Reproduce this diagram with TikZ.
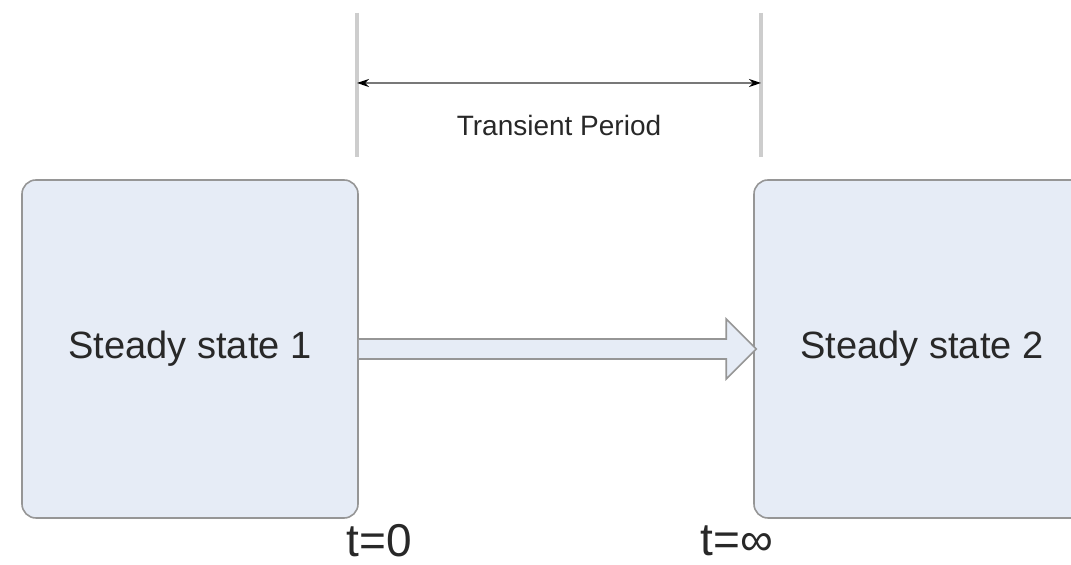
\documentclass[tikz,border=0pt]{standalone}
\usepackage{fontspec}
\setmainfont{Liberation Sans}
\usetikzlibrary{calc,arrows.meta}
\definecolor{boxfill}{RGB}{230,236,246}
\definecolor{boxline}{RGB}{150,150,150}
\definecolor{markline}{RGB}{205,205,205}
\definecolor{dimline}{RGB}{120,120,120}
\definecolor{labeltext}{RGB}{40,40,40}

\begin{document}
\begin{tikzpicture}[x=0.5pt, y=-0.5pt,
    state/.style={draw=boxline, fill=boxfill, line width=0.8pt, rounded corners=7pt,
        minimum width=168pt, minimum height=169pt, inner sep=0pt, text=labeltext,
        font=\fontsize{19}{22}\selectfont},
    marker/.style={draw=markline, line width=2pt},
    timelabel/.style={text=labeltext, inner sep=0pt, font=\fontsize{23}{27}\selectfont}]
    \clip (0,0) rectangle (1071,565);

    % States
    \node[state] (ss1) at (190,349) {Steady state 1};
    \node[state] (ss2) at (922,349) {Steady state 2};

    % Transition arrow
    \draw[draw=boxline, fill=boxfill, line width=0.8pt]
        ($(ss1.east)+(0,-10)$) -- ($(ss2.west)+(-27,-10)$) -- ++(0,-20)
        -- ($(ss2.west)+(3,0)$) -- ($(ss2.west)+(-27,30)$) -- ++(0,-20)
        -- ($(ss1.east)+(0,10)$);

    % Transient period
    \coordinate (m0) at (357,13);
    \coordinate (m1) at (761,13);
    \draw[marker] (m0) -- ++(0,144);
    \draw[marker] (m1) -- ++(0,144);
    \draw[dimline, line width=1pt, {Stealth[black,length=6pt,width=4pt]}-{Stealth[black,length=6pt,width=4pt]}]
        ($(m0)+(0,70)$) -- ($(m1)+(0,70)$);
    \node[text=labeltext, font=\fontsize{14}{16}\selectfont] (tp) at (559,126) {Transient Period};

    % Times
    \node[timelabel] (t0) at (379,541) {t=0};
    \node[timelabel] (tinf) at (737,541) {t=∞};
\end{tikzpicture}
\end{document}
